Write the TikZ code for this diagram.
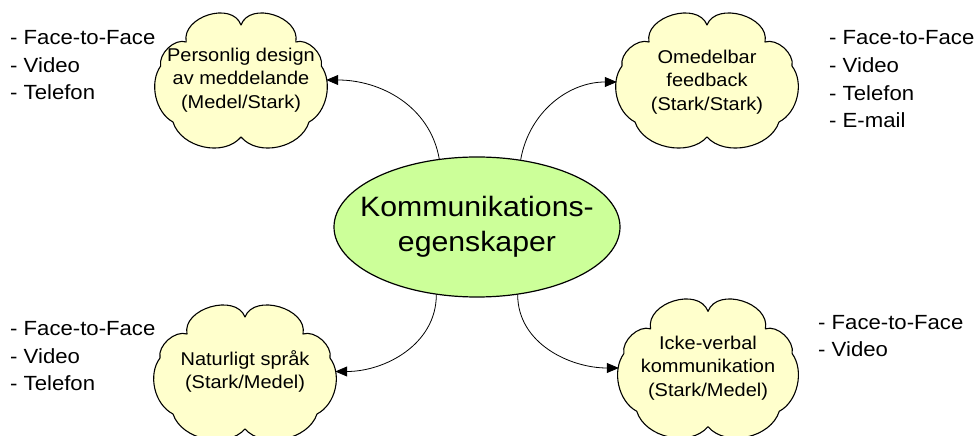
\documentclass[tikz,border=0pt]{standalone}
\usepackage{fontspec}
\setmainfont{Liberation Sans}[FakeStretch=1.08]
\usetikzlibrary{arrows.meta,calc,shapes.geometric}
\definecolor{cloudfill}{RGB}{255,255,204}
\definecolor{hubfill}{RGB}{204,255,153}

% cloud outline around a centre, with horizontal and vertical scale factors
\newcommand\cloudshape[3]{%
  \draw[cloudline,shift={(#1)},xscale=#2,yscale=#3]
    (0,55) to[bend right=85,looseness=1.1] (-58,38)
    to[bend right=60,looseness=0.9] (-85,14)
    to[bend right=50,looseness=0.93] (-72,-42)
    to[bend right=60,looseness=0.95] (0,-57)
    to[bend right=60,looseness=0.95] (72,-42)
    to[bend right=50,looseness=0.93] (85,14)
    to[bend right=60,looseness=0.9] (58,38)
    to[bend right=85,looseness=1.1] (0,55) -- cycle;}

\begin{document}
\begin{tikzpicture}[x=1pt,y=1pt,
  cloudline/.style={draw=black,line width=1.1pt,fill=cloudfill,line join=round},
  cloudtext/.style={align=center,inner sep=0pt,minimum height=120pt,
    font=\fontsize{18.5}{23.5}\selectfont},
  hub/.style={ellipse,draw=black,line width=1.2pt,fill=hubfill,
    minimum width=286pt,minimum height=140pt,inner sep=0pt},
  hubtext/.style={align=center,inner sep=0pt,font=\fontsize{28}{35}\selectfont},
  listtext/.style={anchor=base west,inner sep=0pt,font=\fontsize{20.5}{24}\selectfont},
  conn/.style={draw=black,line width=0.8pt,-{Triangle[length=12pt,width=10pt]}}]
\useasboundingbox (0,0) rectangle (979,436);
\clip (0,0) rectangle (979,436);

% cloud centres
\coordinate (pc) at (241,356);
\coordinate (oc) at (707,356);
\coordinate (nc) at (245,64);
\coordinate (ic) at (708,68);

\cloudshape{pc}{0.945}{1}
\cloudshape{oc}{1}{1}
\cloudshape{nc}{1}{1}
\cloudshape{ic}{0.99}{1.03}

\node[cloudtext,minimum width=170pt] (P) at (241,356)
  {Personlig design\\av meddelande\\(Medel/Stark)};
\node[cloudtext,minimum width=180pt] (O) at (707,354)
  {Omedelbar\\feedback\\(Stark/Stark)};
\node[cloudtext,minimum width=180pt] (N) at (245,64.5)
  {Naturligt språk\\(Stark/Medel)};
\node[cloudtext,minimum width=178pt] (I) at (708,68)
  {Icke-verbal\\kommunikation\\(Stark/Medel)};

% central topic
\node[hub] (E) at (477,209) {};
\node[hubtext] (Et) at (E.center) {Kommunikations-\\egenskaper};

% connectors
\draw[conn] (E.119) to[out=100,in=0] (P.east);
\draw[conn] (E.57) to[out=80,in=180] (O.west);
\draw[conn] (E.239) to[out=-90,in=0] (N.east);
\draw[conn] (E.301) to[out=-90,in=180] (I.west);

% channel lists
\node[listtext] (pl1) at (10,391) {- Face-to-Face};
\node[listtext] (pl2) at (10,363.5) {- Video};
\node[listtext] (pl3) at (10,336) {- Telefon};

\node[listtext] (ol1) at (829,391) {- Face-to-Face};
\node[listtext] (ol2) at (829,363) {- Video};
\node[listtext] (ol3) at (829,335) {- Telefon};
\node[listtext] (ol4) at (829,308) {- E-mail};

\node[listtext] (nl1) at (10,100) {- Face-to-Face};
\node[listtext] (nl2) at (10,72.5) {- Video};
\node[listtext] (nl3) at (10,45) {- Telefon};

\node[listtext] (il1) at (818,106) {- Face-to-Face};
\node[listtext] (il2) at (818,79) {- Video};
\end{tikzpicture}
\end{document}
